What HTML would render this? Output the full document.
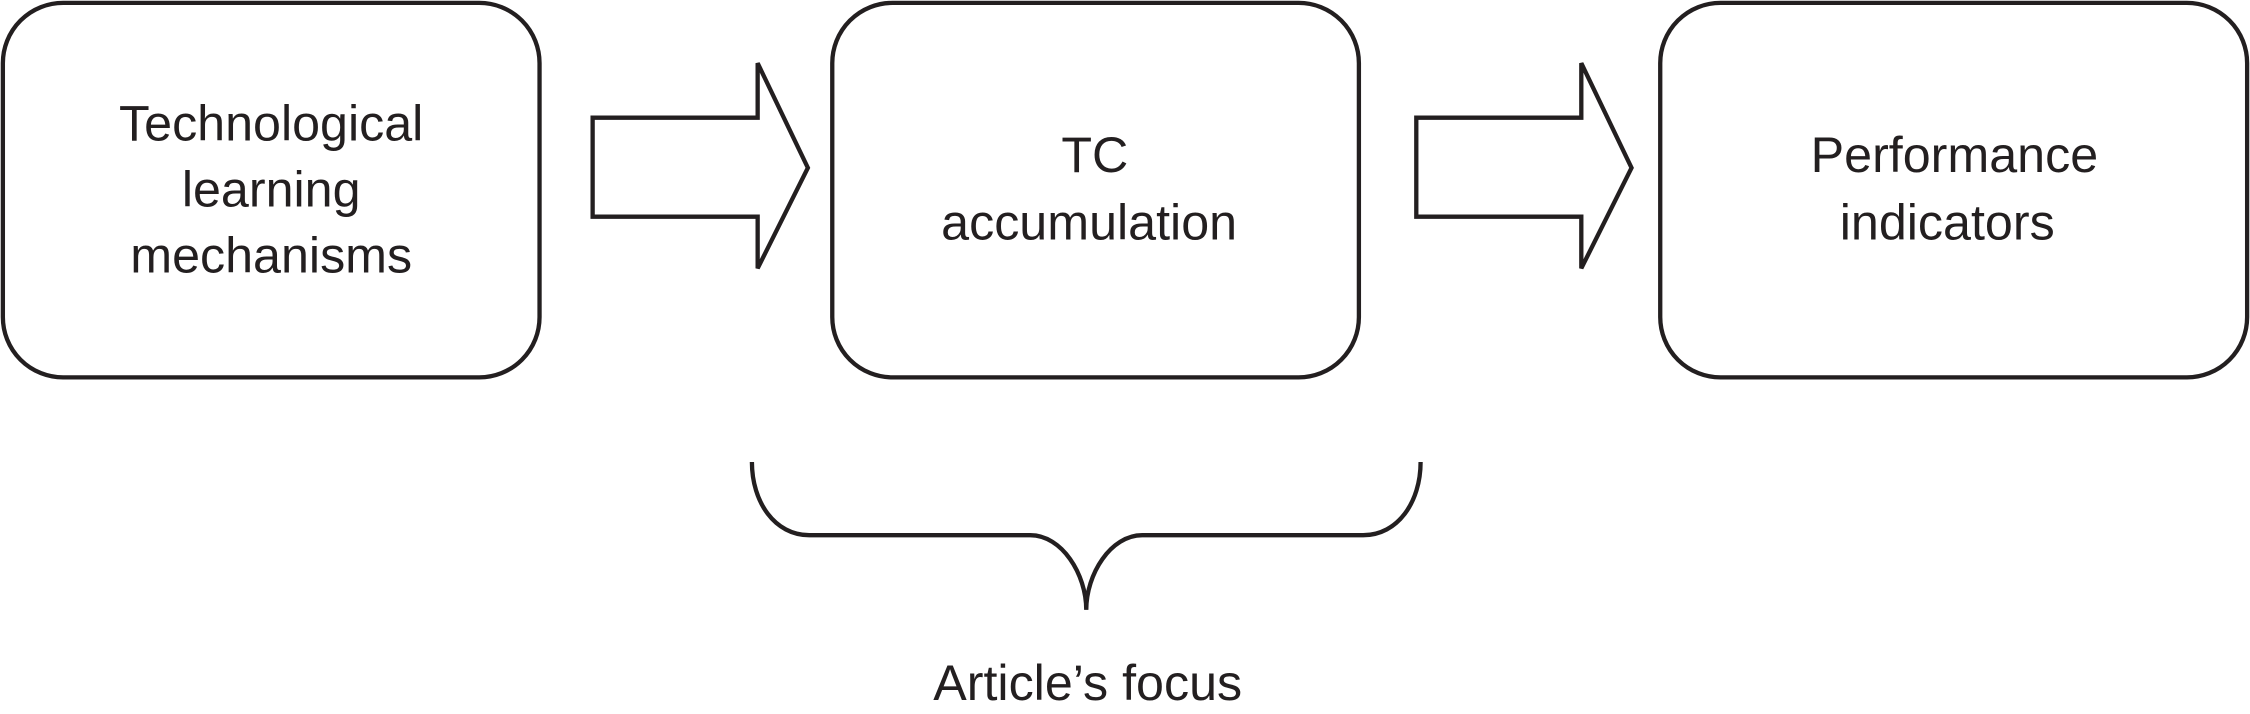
<!DOCTYPE html>
<html><head><meta charset="utf-8"><style>
html,body{margin:0;padding:0;background:#fff;}
svg{display:block;}
text{font-family:"Liberation Sans",Arial,sans-serif;fill:#231f20;font-size:35px;}
</style></head><body>
<svg width="2250" height="714" viewBox="0 0 1568 497.6" preserveAspectRatio="none" xmlns="http://www.w3.org/2000/svg">
<g fill="none" stroke="#231f20" stroke-width="3">
<rect x="2" y="2" width="374" height="261" rx="42"/>
<rect x="580" y="2" width="367" height="261" rx="42"/>
<rect x="1157" y="2" width="409" height="261" rx="42"/>
<path d="M413 82 H528 V44 L563 117 L528 187 V151 H413 Z"/>
<path d="M987 82 H1102 V44 L1137 117 L1102 187 V151 H987 Z"/>
<path d="M524 322 C524 350 540 373 564 373 H718 C740 373 757 400 757 425 C757 400 774 373 796 373 H950 C974 373 990 350 990 322"/>
</g>
<g text-anchor="middle">
<text x="189" y="98">Technological</text>
<text x="189" y="144">learning</text>
<text x="189" y="190">mechanisms</text>
<text x="763" y="120">TC</text>
<text x="759" y="167">accumulation</text>
<text x="1362" y="120">Performance</text>
<text x="1357" y="167">indicators</text>
<text x="758" y="488">Article’s focus</text>
</g>
</svg>
</body></html>
